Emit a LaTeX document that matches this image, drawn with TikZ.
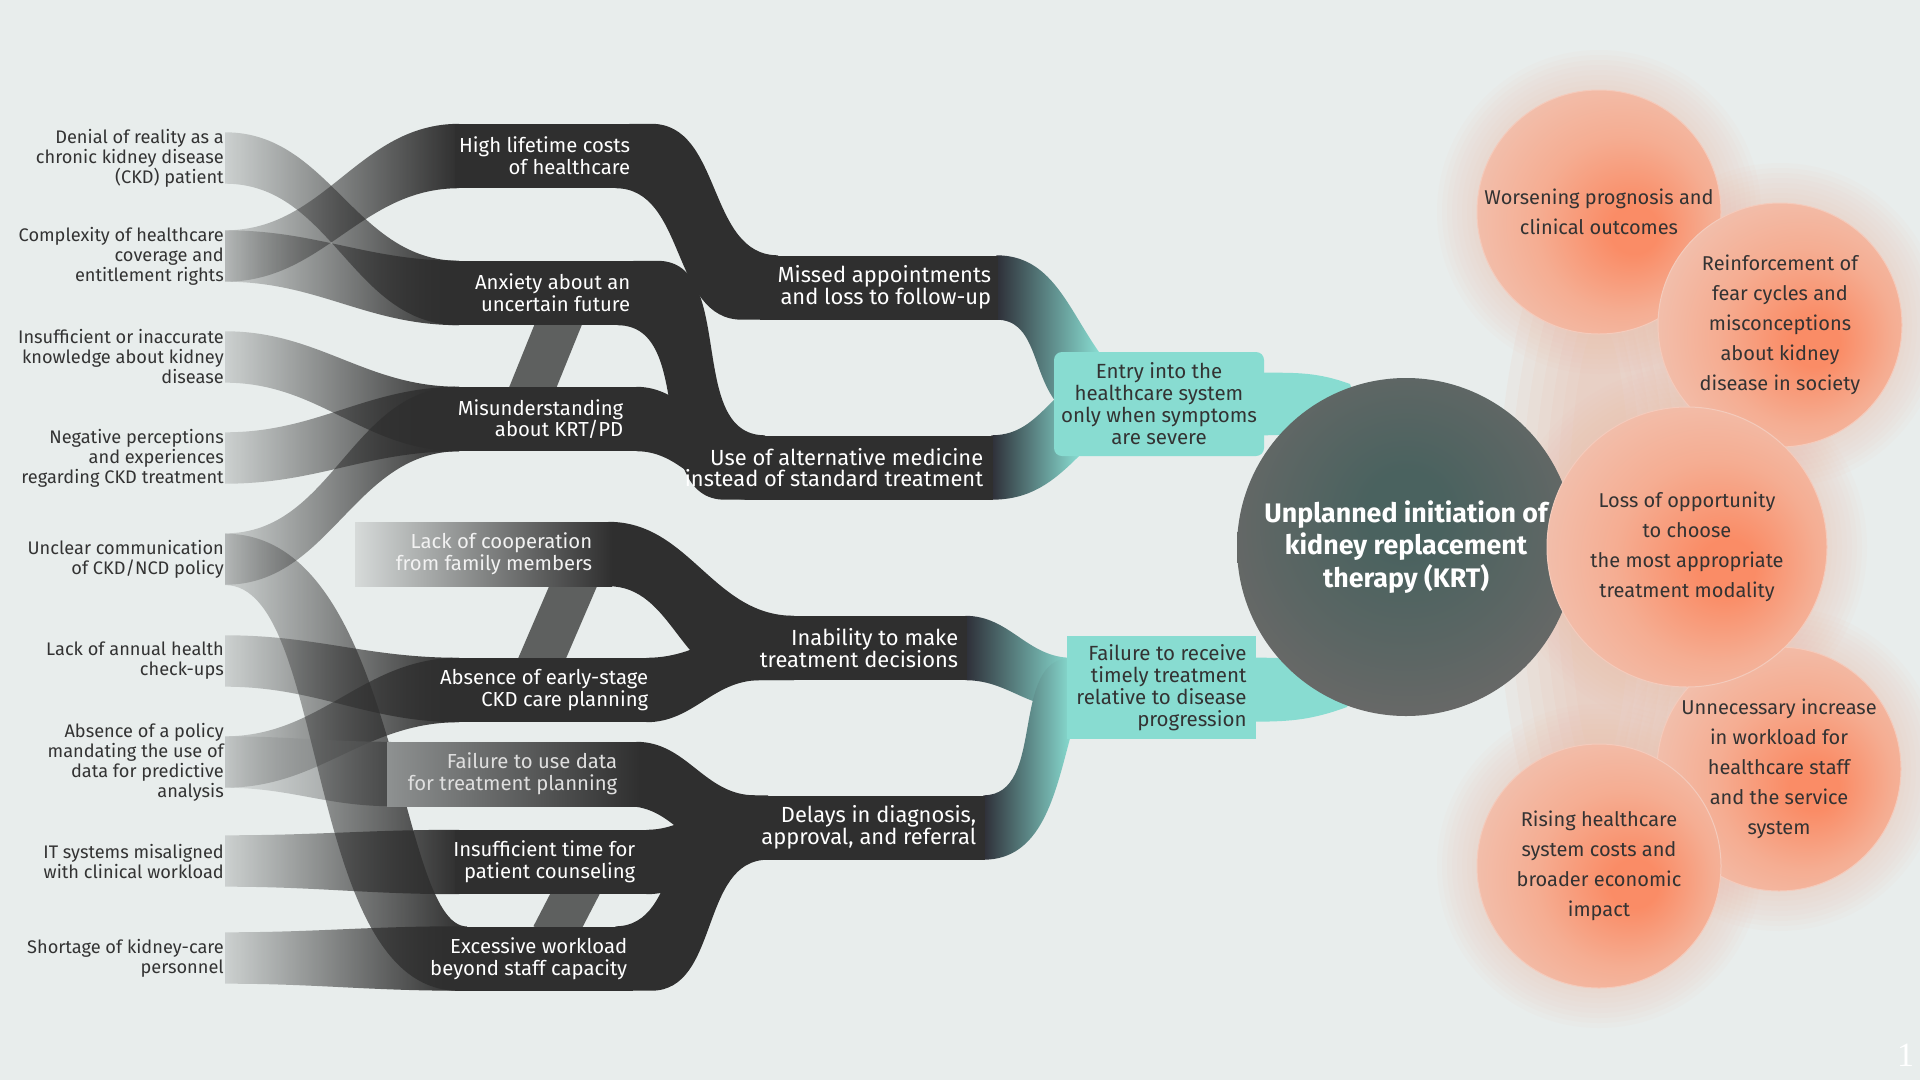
\documentclass[tikz,border=0pt]{standalone}
\usepackage{fontspec}
\setmainfont{Fira Sans}
\newfontfamily\pagefont{Liberation Serif}
\usetikzlibrary{positioning,calc,fadings}

\definecolor{bgc}{HTML}{E8EDEC}
\definecolor{bandc}{HTML}{2F2F2F}
\definecolor{barc}{HTML}{5E605F}
\definecolor{inkc}{HTML}{333333}
\definecolor{tealc}{HTML}{88DCD1}
\definecolor{tealdk}{HTML}{2E2F38}
\definecolor{lacl}{HTML}{D6DAD9}
\definecolor{fudl}{HTML}{8E9191}
\definecolor{krtin}{HTML}{4A625F}
\definecolor{krtmid}{HTML}{5C6664}
\definecolor{krtout}{HTML}{6B6968}
\definecolor{peachhot}{HTML}{FA8C66}
\definecolor{peachmid}{HTML}{F5AD92}
\definecolor{peachpale}{HTML}{F1C3B2}
\definecolor{peachrim}{HTML}{F4CBBC}
\definecolor{glowc}{HTML}{F0BBA7}

\pgfdeclarelayer{back}
\pgfsetlayers{back,main}

\tikzfading[name=fadein, left color=transparent!85, right color=transparent!0]

\pgfdeclareradialshading[krtin,krtmid,krtout]{krtshade}{\pgfpoint{0bp}{6bp}}{color(0bp)=(krtin); color(6bp)=(krtin); color(20bp)=(krtmid); color(30bp)=(krtout); color(50bp)=(krtout)}
\pgfdeclareradialshading[peachhot,peachmid,peachpale,peachrim]{peach}{\pgfpoint{8bp}{-4bp}}{color(0bp)=(peachhot); color(5bp)=(peachhot); color(18bp)=(peachmid); color(32bp)=(peachpale); color(50bp)=(peachrim)}

\newcommand{\lblfont}{\fontsize{18.2}{20}\selectfont}
\newcommand{\midfont}{\fontsize{20.3}{21.7}\selectfont}
\newcommand{\thdfont}{\fontsize{21.9}{20.8}\selectfont}
\newcommand{\tealfont}{\fontsize{20.5}{22}\selectfont}
\newcommand{\titlefont}{\fontsize{26.8}{32.4}\selectfont\bfseries}
\newcommand{\outfont}{\fontsize{20}{30}\selectfont}

\begin{document}
\begin{tikzpicture}[x=1pt, y=-1pt,
    lbl/.style={anchor=east, align=right, inner sep=0pt, text=inkc, font=\lblfont},
    port/.style={minimum height=51pt, minimum width=0pt, inner sep=0pt},
    band/.style={anchor=west, fill=bandc, minimum height=64pt, inner sep=0pt},
    bandtxt/.style={align=right, inner sep=0pt, text=white, font=\midfont},
    stagetxt/.style={align=right, inner sep=0pt, text=white, font=\thdfont},
    tealbox/.style={fill=tealc, align=center, inner sep=0pt, text=inkc, font=\tealfont},
    core/.style={circle, minimum size=338pt, inner sep=0pt, shade, shading=krtshade, align=center, text=white, font=\titlefont},
    effect/.style={circle, minimum size=244pt, inner sep=0pt, shade, shading=peach, draw=peachrim, line width=1pt, align=center, text=inkc, font=\outfont},
    flow/.style={fill=bandc, path fading=fadein},
    link/.style={fill=bandc},
    tealflow/.style={left color=tealdk, right color=tealc},
    bar/.style={draw=barc, line width=44pt},
    glow/.style={fill=glowc, fill opacity=0.05}]
    \useasboundingbox (0,0) rectangle (1920,1080);

    % causes on the left
    \node[lbl] (den) at (224,158) {Denial of reality as a\\chronic kidney disease\\(CKD) patient};
    \node[lbl] (cpx) at (224,256) {Complexity of healthcare\\coverage and\\entitlement rights};
    \node[lbl] (ikn) at (224,357) {Insufficient or inaccurate\\knowledge about kidney\\disease};
    \node[lbl] (neg) at (224,458) {Negative perceptions\\and experiences\\regarding CKD treatment};
    \node[lbl] (unc) at (224,559) {Unclear communication\\of CKD/NCD policy};
    \node[lbl] (ann) at (224,661) {Lack of annual health\\check-ups};
    \node[lbl] (pol) at (224,762) {Absence of a policy\\mandating the use of\\data for predictive\\analysis};
    \node[lbl] (its) at (224,861) {IT systems misaligned\\with clinical workload};
    \node[lbl] (sho) at (224,958) {Shortage of kidney-care\\personnel};
    \foreach \n in {den,cpx,ikn,neg,unc,ann,pol,its,sho}
        \node[port, right=1pt of \n] (\n-p) {};

    % middle bands
    \node[band, minimum width=178pt] (hlc) at (455,156) {};
    \node[band, minimum width=182pt] (anx) at (455,293) {};
    \node[band, minimum width=185pt] (mis) at (455,419) {};
    \node[band, minimum width=257pt, left color=lacl, right color=bandc] (lac) at (355,554) {};
    \node[band, minimum width=195pt] (abs) at (455,690) {};
    \node[band, minimum width=253pt, left color=fudl, right color=bandc] (fud) at (387,774) {};
    \node[band, minimum width=195pt] (ins) at (455,862) {};
    \node[band, minimum width=178pt] (exc) at (455,958.5) {};
    \node[bandtxt, left=3pt of hlc.east] (hlc-t) {High lifetime costs\\of healthcare};
    \node[bandtxt, left=7pt of anx.east] (anx-t) {Anxiety about an\\uncertain future};
    \node[bandtxt, left=17pt of mis.east] (mis-t) {Misunderstanding\\about KRT/PD};
    \node[bandtxt, text=white!95!black, left=20pt of lac.east] (lac-t) {Lack of cooperation\\from family members};
    \node[bandtxt, left=2pt of abs.east] (abs-t) {Absence of early-stage\\CKD care planning};
    \node[bandtxt, text=gray!25, left=23pt of fud.east] (fud-t) {Failure to use data\\for treatment planning};
    \node[bandtxt, left=15pt of ins.east] (ins-t) {Insufficient time for\\patient counseling};
    \node[bandtxt, left=6pt of exc.east] (exc-t) {Excessive workload\\beyond staff capacity};

    % second stage
    \node[band, minimum width=238pt] (mia) at (760,287.5) {};
    \node[band, minimum width=248pt] (alt) at (745,467.5) {};
    \node[band, minimum width=177pt] (ina) at (790,648) {};
    \node[band, minimum width=235pt] (del) at (750,827.5) {};
    \node[stagetxt, left=7pt of mia.east] (mia-t) {Missed appointments\\and loss to follow-up};
    \node[stagetxt, left=10pt of alt.east] (alt-t) {Use of alternative medicine\\instead of standard treatment};
    \node[stagetxt, left=9pt of ina.east] (ina-t) {Inability to make\\treatment decisions};
    \node[stagetxt, left=9pt of del.east] (del-t) {Delays in diagnosis,\\approval, and referral};

    % pathways
    \node[tealbox, rounded corners=8pt, minimum width=210pt, minimum height=104pt] (ent) at (1159,404)
        {Entry into the\\healthcare system\\only when symptoms\\are severe};
    \node[tealbox, align=right, minimum width=189pt, minimum height=103pt] (ftr) at (1161.5,687.5)
        {Failure to receive\\timely treatment\\relative to disease\\progression};

    % outcome and effects
    \node[core] (krt) at (1406,547) {Unplanned initiation of\\kidney replacement\\therapy (KRT)};
    \node[effect] (o1) at (1599,212) {Worsening prognosis and\\clinical outcomes};
    \node[effect] (o2) at (1780,325) {Reinforcement of\\fear cycles and\\misconceptions\\about kidney\\disease in society};
    \node[effect] (o4) at (1779,769) {Unnecessary increase\\in workload for\\healthcare staff\\and the service\\system};
    \node[effect] (o5) at (1599,866) {Rising healthcare\\system costs and\\broader economic\\impact};
    \node[effect, minimum size=280pt] (o3) at (1687,547) {Loss of opportunity\\to choose\\the most appropriate\\treatment modality};
    \node[text=white, inner sep=0pt, anchor=south west, font=\pagefont\fontsize{34}{34}\selectfont] (pg) at (1897,1067) {1};

    \begin{pgfonlayer}{back}
    \fill[bgc] (0,0) rectangle (1920,1080);
    % soft glow round the effects
    \foreach \k in {1,...,7}
        \fill[glow, fill opacity=0.1] (1600,545) ellipse [x radius={(20+12*\k)*1pt}, y radius={(200+22*\k)*1pt}];
    \foreach \o/\r in {o1/122,o2/122,o4/122,o5/122,o3/140}
        \foreach \k in {1,...,8}
            \fill[glow] (\o.center) circle [radius={(\r+5*\k)*1pt}];

    % causes into the middle bands
    \foreach \s/\t in {den/anx, cpx/hlc, cpx/anx, ikn/mis, neg/mis, unc/mis, ann/abs, pol/abs, its/ins, sho/exc}
        \fill[flow] (\s-p.north) to[out=0,in=180] ($(\t.north west)+(4,0)$) -- ($(\t.south west)+(4,0)$)
            to[out=180,in=0] (\s-p.south) -- cycle;
    \fill[flow, fill=fudl] (pol-p.north) to[out=0,in=180] ($(fud.north west)+(4,0)$) -- ($(fud.south west)+(4,0)$)
        to[out=180,in=0] (pol-p.south) -- cycle;
    \fill[flow] (unc-p.north) .. controls ($(unc-p.north)+(175,0)$) and ($(exc.north west)+(-59,0)$) .. ($(exc.north west)+(12,0)$)
        -- ($(exc.south west)+(4,0)$) .. controls ($(exc.south west)+(-153,0)$) and ($(unc-p.south)+(105,0)$) .. (unc-p.south) -- cycle;

    \draw[bar] ($(anx.south west)+(107,-10)$) -- ($(mis.north west)+(74,10)$);
    \draw[bar] ($(lac.south east)+(-35,-10)$) -- ($(abs.north west)+(83,10)$);
    \draw[bar] ($(ins.south west)+(125,-10)$) -- ($(exc.north west)+(98,10)$);

    % middle bands into the second stage
    \fill[link] ($(hlc.north east)+(-4,0)$) -- ++(22,0) to[out=0,in=180] ($(mia.north west)+(18,0)$)
        |- ($(mia.south west)+(-18,0)$) to[out=180,in=0] ($(hlc.south east)+(-18,0)$) -- cycle;
    \fill[link] ($(anx.north east)+(-4,0)$) -- ++(24,0) to[out=0,in=180] ($(alt.north west)+(20,0)$)
        |- ($(alt.south west)+(-20,0)$) to[out=180,in=0] ($(anx.south east)+(-20,0)$) -- cycle;
    \fill[link] ($(mis.north east)+(-4,0)$) to[out=0,in=180] ($(alt.north west)+(4,0)$)
        -- ($(alt.south west)+(4,0)$) to[out=180,in=0] ($(mis.south east)+(-4,0)$) -- cycle;
    \fill[link] ($(lac.north east)+(-4,0)$) to[out=0,in=180] ($(ina.north west)+(4,0)$)
        |- ($(ina.south west)+(-45,0)$) to[out=180,in=0] ($(lac.south east)+(-4,0)$) -- cycle;
    \fill[link] ($(abs.north east)+(-4,0)$) to[out=0,in=180] ($(ina.north west)+(4,0)$)
        |- ($(ina.south west)+(-30,0)$) to[out=180,in=0] ($(abs.south east)+(-4,0)$) -- cycle;
    \fill[link] ($(fud.north east)+(-4,0)$) to[out=0,in=180] ($(del.north west)+(5,0)$)
        |- ($(del.south west)+(-10,0)$) to[out=180,in=0] ($(fud.south east)+(-13,0)$) -- cycle;
    \fill[link] ($(ins.north east)+(-4,0)$) to[out=0,in=180] ($(del.north west)+(4,0)$)
        -- ($(del.south west)+(4,0)$) to[out=180,in=0] ($(ins.south east)+(-4,0)$) -- cycle;
    \fill[link] ($(exc.north east)+(-18,0)$) to[out=0,in=180] ($(del.north west)+(-18,0)$)
        -| ($(del.south west)+(18,0)$) to[out=180,in=0] ($(exc.south east)+(18,0)$) -- ($(exc.south east)+(-4,0)$) -- cycle;

    % second stage into the pathways
    \shade[tealflow] ($(mia.north east)+(-2,0)$) to[out=0,in=125] ($(ent.north west)+(45,0)$)
        -- ($(ent.west)+(0,-5)$) to[out=125,in=0] ($(mia.south east)+(-2,0)$) -- cycle;
    \shade[tealflow] ($(alt.north east)+(-2,0)$) to[out=0,in=225] ($(ent.west)+(2,-6)$)
        -- ($(ent.south west)+(25,0)$) to[out=225,in=0] ($(alt.south east)+(-2,0)$) -- cycle;
    \shade[tealflow] ($(ina.north east)+(-2,0)$) to[out=0,in=180] ($(ftr.north west)+(5,22)$)
        -- ($(ftr.west)+(0,20)$) to[out=180,in=0] ($(ina.south east)+(-2,0)$) -- cycle;
    \shade[tealflow] ($(del.north east)+(-2,0)$) to[out=0,in=180] ($(ftr.north west)+(5,22)$)
        -- ($(ftr.south west)+(3,0)$) to[out=255,in=0] ($(del.south east)+(-2,0)$) -- cycle;

    % pathways into the outcome
    \fill[tealc] ($(ent.north east)!0.2!(ent.south east)$) to[out=0,in=160] ($(krt.center)+(-56,-163)$)
        -- (krt.center) -- ($(krt.center)+(-126,-112)$) -- ($(ent.north east)!0.8!(ent.south east)$) -- cycle;
    \fill[tealc] ($(ftr.north east)!0.21!(ftr.south east)$) -- ($(krt.center)+(-127,111)$) -- (krt.center)
        -- ($(krt.center)+(-59,160)$) to[out=200,in=0] ($(ftr.north east)!0.83!(ftr.south east)$) -- cycle;
    \end{pgfonlayer}
\end{tikzpicture}
\end{document}
